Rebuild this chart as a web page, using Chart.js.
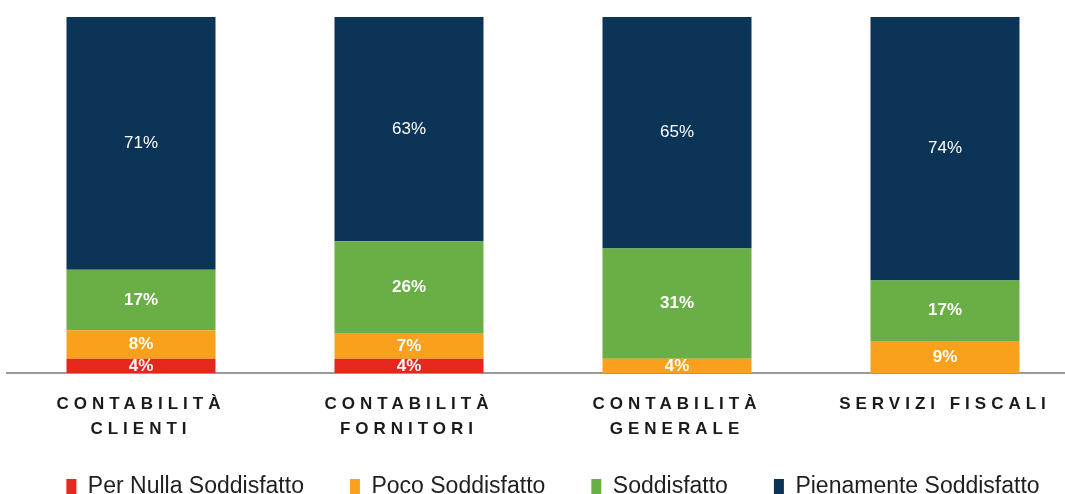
<!DOCTYPE html>
<html>
<head>
<meta charset="utf-8">
<script src="https://cdn.jsdelivr.net/npm/chart.js@4"></script>
<style>
  html, body { margin: 0; padding: 0; background: #fff; overflow: hidden; }
  #wrap { position: absolute; left: 0; top: 0; width: 1080px; height: 508px; }
</style>
</head>
<body>
<div id="wrap"><canvas id="chart"></canvas></div>
<script>
const categories = [
  ["CONTABILITÀ", "CLIENTI"],
  ["CONTABILITÀ", "FORNITORI"],
  ["CONTABILITÀ", "GENERALE"],
  ["SERVIZI FISCALI"],
];
const perNulla = [4, 4, 0, 0];
const poco = [8, 7, 4, 9];
const soddisfatto = [17, 26, 31, 17];
const pienamente = [71, 63, 65, 74];

// wider letter spacing on the category labels, and let them run past the axis box
const spacedTicks = {
  id: "spacedTicks",
  beforeDraw(chart) {
    const sc = chart.scales.x;
    if (sc && !sc._spaced) {
      const orig = sc.drawLabels;
      sc._computeLabelArea = () => undefined;
      sc.drawLabels = function (area) {
        const ctx = this.ctx;
        ctx.save();
        ctx.letterSpacing = "5px";
        orig.call(this, area);
        ctx.restore();
      };
      sc._spaced = true;
    }
  },
  afterLayout(chart) {
    // legend sits a bit right of centre in the original
    chart.legend.left += 10;
    chart.legend.right += 10;
  },
};

// percent labels in the middle of each segment, clipped at the axis
const segLabels = {
  id: "segLabels",
  afterDatasetsDraw(chart) {
    const { ctx, chartArea } = chart;
    ctx.save();
    ctx.beginPath();
    ctx.rect(chartArea.left, chartArea.top, chartArea.right - chartArea.left, chartArea.bottom - chartArea.top);
    ctx.clip();
    ctx.fillStyle = "#ffffff";
    ctx.textAlign = "center";
    ctx.textBaseline = "middle";
    chart.data.datasets.forEach((ds, i) => {
      const meta = chart.getDatasetMeta(i);
      ctx.font = (i === 3 ? "" : "bold ") + "17px 'Liberation Sans', Arial, sans-serif";
      meta.data.forEach((bar, j) => {
        const v = ds.data[j];
        if (!v) return;
        ctx.fillText(v + "%", bar.x, (bar.y + bar.base) / 2);
      });
    });
    ctx.restore();
  },
};

new Chart(document.getElementById("chart"), {
  type: "bar",
  data: {
    labels: categories,
    datasets: [
      { label: "Per Nulla Soddisfatto", data: perNulla, backgroundColor: "#e5271d" },
      { label: "Poco Soddisfatto", data: poco, backgroundColor: "#f9a11c" },
      { label: "Soddisfatto", data: soddisfatto, backgroundColor: "#6aae46" },
      { label: "Pienamente Soddisfatto", data: pienamente, backgroundColor: "#0c3457" },
    ],
  },
  options: {
    responsive: true,
    maintainAspectRatio: false,
    animation: false,
    layout: { padding: { left: 7, right: 1, top: 17, bottom: 0 } },
    datasets: {
      bar: { categoryPercentage: 0.556, barPercentage: 1, borderWidth: 0 },
    },
    scales: {
      x: {
        stacked: true,
        grid: { display: false, drawTicks: false },
        border: { display: true, color: "#9a9a9a", width: 2 },
        ticks: {
          color: "#1b1b1b",
          padding: 19,
          font: { family: "'Liberation Sans', Arial, sans-serif", size: 17, weight: "bold", lineHeight: 1.47 },
        },
        afterFit(scale) {
          scale.height = 56;
        },
      },
      y: { stacked: true, min: 0, max: 100, display: false },
    },
    plugins: {
      legend: {
        position: "bottom",
        labels: {
          boxWidth: 10,
          boxHeight: 15,
          padding: 46,
          color: "#1f1f1f",
          font: { family: "'Liberation Sans', Arial, sans-serif", size: 23 },
        },
      },
      tooltip: { enabled: false },
    },
  },
  plugins: [spacedTicks, segLabels],
});
</script>
</body>
</html>
